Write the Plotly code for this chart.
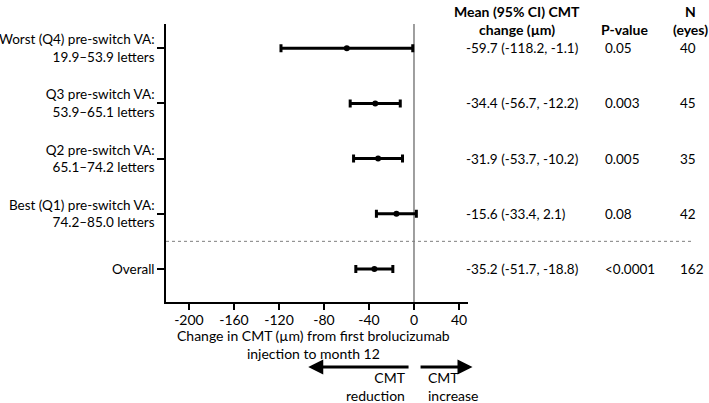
import plotly.graph_objects as go

# ---- data ----
labels = ["Worst (Q4) pre-switch VA:<br>19.9–53.9 letters",
          "Q3 pre-switch VA:<br>53.9–65.1 letters",
          "Q2 pre-switch VA:<br>65.1–74.2 letters",
          "Best (Q1) pre-switch VA:<br>74.2–85.0 letters",
          "Overall"]
positions = [5, 4, 3, 2, 1]
means = [-59.7, -34.4, -31.9, -15.6, -35.2]
ci_low = [-118.2, -56.7, -53.7, -33.4, -51.7]
ci_high = [-1.1, -12.2, -10.2, 2.1, -18.8]
pvalues = ["0.05", "0.003", "0.005", "0.08", "<0.0001"]
n_eyes = ["40", "45", "35", "42", "162"]
x_ticks = [-200, -160, -120, -80, -40, 0, 40]
x_ticktext = [str(v) for v in x_ticks]

FONT = "Lato"
W, H = 709, 403
L, R, T, B = 166, 241, 24, 101
PW, PH = W - L - R, H - T - B

def px_x(p):
    return (p - L) / PW

def px_y(p):
    return (H - B - p) / PH

fig = go.Figure()

fig.add_trace(go.Scatter(
    x=means, y=positions, mode="markers",
    marker=dict(color="black", size=6),
    error_x=dict(type="data", symmetric=False,
                 array=[h - m for h, m in zip(ci_high, means)],
                 arrayminus=[m - l for m, l in zip(means, ci_low)],
                 color="black", thickness=3, width=4),
    showlegend=False, cliponaxis=False,
))

shapes = [
    dict(type="line", xref="x", yref="paper", x0=0, x1=0, y0=0, y1=1,
         line=dict(color="#7f7f7f", width=1.5), layer="below"),
    dict(type="line", xref="paper", yref="y", x0=0, x1=px_x(693), y0=1.5, y1=1.5,
         line=dict(color="#7f7f7f", width=1, dash="dot")),
]

ann = []
# column headers
hdr = dict(size=14)
ann.append(dict(xref="paper", yref="paper", x=px_x(517), y=px_y(11),
                text="<b>Mean (95% CI) CMT</b>", showarrow=False, font=hdr,
                xanchor="center", yanchor="middle"))
ann.append(dict(xref="paper", yref="paper", x=px_x(517), y=px_y(30),
                text="<b>change (µm)</b>", showarrow=False, font=hdr,
                xanchor="center", yanchor="middle"))
ann.append(dict(xref="paper", yref="paper", x=px_x(624), y=px_y(30),
                text="<b>P-value</b>", showarrow=False, font=hdr,
                xanchor="center", yanchor="middle"))
ann.append(dict(xref="paper", yref="paper", x=px_x(690), y=px_y(11),
                text="<b>N</b>", showarrow=False, font=hdr,
                xanchor="center", yanchor="middle"))
ann.append(dict(xref="paper", yref="paper", x=px_x(690), y=px_y(30),
                text="<b>(eyes)</b>", showarrow=False, font=hdr,
                xanchor="center", yanchor="middle"))

for pos, m, lo, hi, p, n in zip(positions, means, ci_low, ci_high, pvalues, n_eyes):
    ann.append(dict(xref="paper", yref="y", x=px_x(464), y=pos,
                    text=f"{m:.1f} ({lo:.1f}, {hi:.1f})", showarrow=False,
                    xanchor="left", yanchor="middle"))
    ann.append(dict(xref="paper", yref="y", x=px_x(603), y=pos,
                    text=p, showarrow=False, xanchor="left", yanchor="middle"))
    ann.append(dict(xref="paper", yref="y", x=px_x(678), y=pos,
                    text=n, showarrow=False, xanchor="left", yanchor="middle"))

# x-axis title
ann.append(dict(xref="paper", yref="paper", x=px_x(313), y=px_y(344),
                text="Change in CMT (µm) from first brolucizumab<br>injection to month 12",
                showarrow=False, align="center", xanchor="center", yanchor="middle",
                font=dict(size=14)))

# direction arrows
ay_arrow = px_y(367)
ann.append(dict(xref="x", yref="paper", x=-94, y=ay_arrow, ax=-3.5, ay=0,
                axref="x", ayref="pixel", showarrow=True, arrowhead=2,
                arrowsize=1, arrowwidth=3, arrowcolor="black", text=""))
ann.append(dict(xref="x", yref="paper", x=52, y=ay_arrow, ax=4.5, ay=0,
                axref="x", ayref="pixel", showarrow=True, arrowhead=2,
                arrowsize=1, arrowwidth=3, arrowcolor="black", text=""))
ann.append(dict(xref="paper", yref="paper", x=px_x(408), y=px_y(386),
                text="CMT<br>reduction", showarrow=False, align="right",
                xanchor="right", yanchor="middle", font=dict(size=14)))
ann.append(dict(xref="paper", yref="paper", x=px_x(426), y=px_y(386),
                text="CMT<br>increase", showarrow=False, align="left",
                xanchor="left", yanchor="middle", font=dict(size=14)))

fig.update_layout(
    width=W, height=H,
    margin=dict(l=L, r=R, t=T, b=B, pad=0, autoexpand=False),
    paper_bgcolor="white", plot_bgcolor="white",
    font=dict(family=FONT, size=13.5, color="black"),
    shapes=shapes, annotations=ann,
    xaxis=dict(range=[-220.4, 48], tickvals=x_ticks, ticktext=x_ticktext,
               showgrid=False, automargin=False,
               zeroline=False, showline=True, linecolor="black", linewidth=1.5,
               ticks="outside", ticklen=6, tickwidth=1.5, tickcolor="black",
               ticklabelstandoff=-2,
               tickfont=dict(size=14)),
    yaxis=dict(range=[0.4, 5.44], tickvals=positions, ticktext=labels,
               showgrid=False, zeroline=False, showline=True, linecolor="black",
               automargin=False,
               linewidth=1.5, ticks="outside", ticklen=7, tickwidth=1.5,
               tickcolor="black", tickfont=dict(size=13.5)),
)

fig.write_html("out.html", config={"displayModeBar": False},
               post_script="document.body.style.margin='0';")
